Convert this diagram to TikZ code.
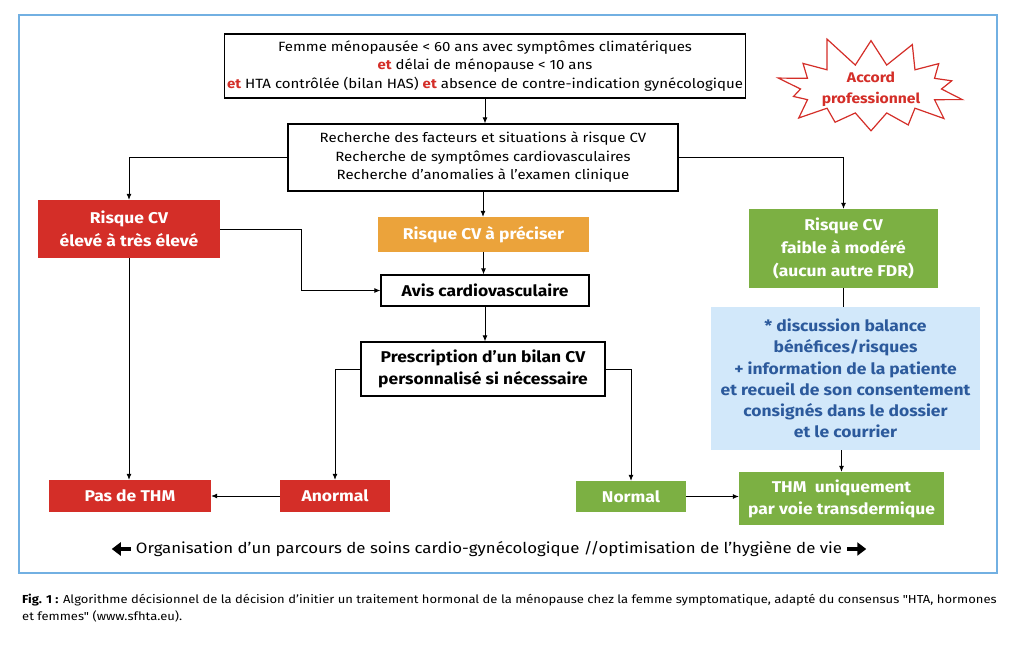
\documentclass[tikz,border=0pt]{standalone}
\usepackage{fontspec}
\setmainfont[FakeStretch=1.12]{Fira Sans}
\newfontfamily\capfont[FakeStretch=1.12]{Fira Sans}
\usetikzlibrary{shapes.symbols,arrows.meta}
\definecolor{risqred}{HTML}{D42E28}
\definecolor{risqorange}{HTML}{EBA33B}
\definecolor{risqgreen}{HTML}{7CB043}
\definecolor{infoblue}{HTML}{D2E8FA}
\definecolor{infotext}{HTML}{2C5A9C}
\definecolor{frameblue}{HTML}{72B0E2}
\tikzset{
  every node/.style={inner sep=0pt, align=center, font=\fontsize{13.4}{18.5}\selectfont},
  plainbox/.style={draw, line width=1.3pt},
  colbox/.style={text=white, font=\bfseries\fontsize{15.6}{23}\selectfont},
  redbox/.style={colbox, fill=risqred},
  greenbox/.style={colbox, fill=risqgreen},
  link/.style={-{Latex[length=6pt,width=5pt]}, line width=0.8pt},
  fatarrow/.style={-{Triangle[length=9pt,width=13pt]}, line width=4pt}
}
\newcommand{\redet}{\textcolor{risqred}{\textbf{et}}}

\begin{document}
\begin{tikzpicture}[x=1pt, y=-1pt]
\useasboundingbox[fill=white] (0,0) rectangle (1024,646);
% Frame
    \draw[frameblue, line width=1.5pt] (19,15) rectangle (997,573);
% Boxes
    \node[plainbox, minimum width=521pt, minimum height=64pt] (femme) at (485,66)
        {Femme ménopausée < 60 ans avec symptômes climatériques\\
         \redet{} délai de ménopause < 10 ans\\
         \redet{} HTA contrôlée (bilan HAS) \redet{} absence de contre-indication gynécologique};
    \node[plainbox, minimum width=390pt, minimum height=67pt] (recherche) at (483,157.5)
        {Recherche des facteurs et situations à risque CV\\
         Recherche de symptômes cardiovasculaires\\
         Recherche d'anomalies à l'examen clinique};
    \node[redbox, minimum width=182pt, minimum height=58pt] (eleve) at (129,229)
        {Risque CV\\élevé à très élevé};
    \node[colbox, fill=risqorange, minimum width=211pt, minimum height=35pt] (preciser) at (483.5,234.5)
        {Risque CV à préciser};
    \node[plainbox, font=\bfseries\fontsize{15.6}{18}\selectfont, minimum width=208pt, minimum height=31pt] (avis) at (485,290.5)
        {Avis cardiovasculaire};
    \node[plainbox, font=\bfseries\fontsize{15.6}{22}\selectfont, minimum width=244pt, minimum height=54pt] (bilan) at (483,369)
        {Prescription d'un bilan CV\\personnalisé si nécessaire};
    \node[greenbox, minimum width=189pt, minimum height=79pt] (faible) at (843.5,248.5)
        {Risque CV\\faible à modéré\\(aucun autre FDR)};
    \node[fill=infoblue, text=infotext, font=\bfseries\fontsize{15.6}{21.2}\selectfont,
          minimum width=269pt, minimum height=143pt] (balance) at (845.5,378.5)
        {* discussion balance\\bénéfices/risques\\+ information de la patiente\\
         et recueil de son consentement\\consignés dans le dossier\\et le courrier};
    \node[greenbox, font=\bfseries\fontsize{15.6}{22}\selectfont, minimum width=205pt, minimum height=53pt] (thm) at (841.5,498.5)
        {THM\ \ uniquement\\par voie transdermique};
    \node[greenbox, minimum width=110pt, minimum height=31pt] (normal) at (631,496.5) {Normal};
    \node[redbox, minimum width=110pt, minimum height=32pt] (anormal) at (335,496) {Anormal};
    \node[redbox, minimum width=162pt, minimum height=32pt] (pasthm) at (130,496) {Pas de THM};
% Accord
    \node[starburst, draw=risqred, line width=1.2pt, text=risqred,
          font=\bfseries\fontsize{14}{21}\selectfont,
          starburst points=14, starburst point height=32pt, random starburst=11,
          minimum width=205pt, minimum height=102pt] (accord) at (871,89)
        {Accord\\professionnel};
% Links
    \coordinate (detour) at (301,0);
    \draw[link] (femme.south) -- (femme.south |- recherche.north);
    \draw[link] (recherche.west) -| (eleve.north);
    \draw[link] (recherche.east) -| (faible.north);
    \draw[link] (recherche.south) -- (recherche.south |- preciser.north);
    \draw[link] (preciser.south) -- (preciser.south |- avis.north);
    \draw[link] (eleve.east) -- (eleve.east -| detour) |- (avis.west);
    \draw[link] (avis.south) -- (avis.south |- bilan.north);
    \draw[link] (eleve.south) -- (eleve.south |- pasthm.north);
    \draw[link] (bilan.west) -| (anormal.north);
    \draw[link] (bilan.east) -| (normal.north);
    \draw[line width=0.8pt] (faible.south) -- (faible.south |- balance.north);
    \draw[link] (thm.north |- balance.south) -- (thm.north);
    \draw[link] (normal.east) -- (normal.east -| thm.west);
    \draw[link] (anormal.west) -- (pasthm.east);
% Parcours
    \node[font=\fontsize{15}{18}\selectfont] (parcours) at (489,549)
        {Organisation d'un parcours de soins cardio-gynécologique //optimisation de l'hygiène de vie};
    \coordinate (gauche) at ([xshift=-24pt]parcours.west);
    \coordinate (droite) at ([xshift=24pt]parcours.east);
    \draw[fatarrow] ([xshift=-5pt]parcours.west) -- (gauche);
    \draw[fatarrow] ([xshift=5pt]parcours.east) -- (droite);
% Caption
    \node[anchor=north west, align=left, font=\capfont\fontsize{11.6}{17}\selectfont] (legende) at (22,594)
        {\textbf{Fig. 1 :} Algorithme décisionnel de la décision d’initier un traitement hormonal de la ménopause chez la femme symptomatique, adapté du consensus "HTA, hormones\\
         et femmes" (www.sfhta.eu).};
\end{tikzpicture}
\end{document}
